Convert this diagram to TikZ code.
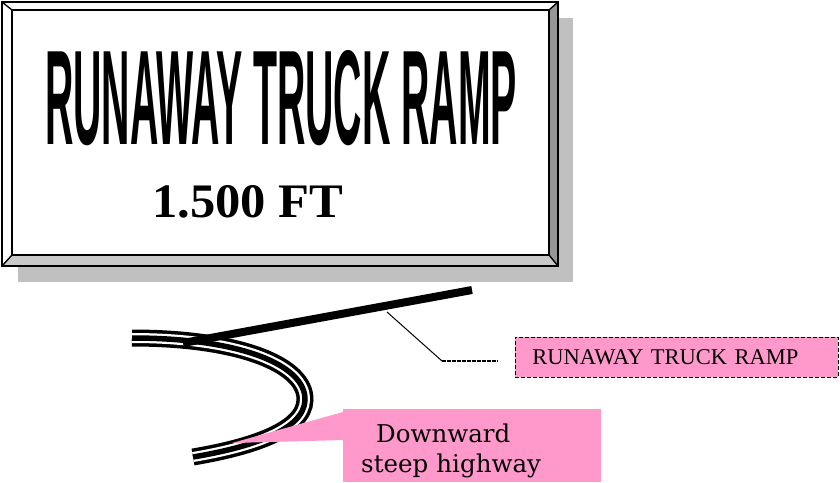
\documentclass[tikz,border=0pt]{standalone}
\usepackage{fontspec}
\setmainfont{Liberation Serif}
\newfontfamily\signfont{Liberation Sans}
\newfontfamily\hwyfont{DejaVu Serif}
\usepackage{graphicx}
\usetikzlibrary{positioning}
\definecolor{labelpink}{HTML}{FF99CC}
\definecolor{shadowgray}{HTML}{C0C0C0}
\definecolor{bevelgray}{HTML}{969696}

\begin{document}
\begin{tikzpicture}[x=1pt,y=-1pt,
    signline/.style={line width=1.4pt, line join=miter},
    pinklabel/.style={fill=labelpink, inner ysep=0pt}]
    \useasboundingbox (0,0) rectangle (840,482);

    % shadow behind the sign
    \fill[shadowgray] (18,18) rectangle (573,282);
    % sign face with bevelled frame
    \fill[white] (2,2) rectangle (558,266);
    \fill[bevelgray] (558,2) -- (558,266) -- (549,255) -- (549,10) -- cycle;
    \fill[shadowgray!85] (2,266) -- (558,266) -- (549,255) -- (12,255) -- cycle;
    \draw[signline] (2,2) rectangle (558,266);
    \draw[signline] (12,10) rectangle (549,255);
    \foreach \ox/\oy/\ix/\iy in {2/2/12/10, 558/2/549/10, 558/266/549/255, 2/266/12/255}
        \draw[signline] (\ox,\oy) -- (\ix,\iy);

    \node[inner sep=0pt, anchor=north west] (title) at (45,50)
        {\resizebox{472pt}{94pt}{\signfont\bfseries RUNAWAY TRUCK RAMP}};
    \node[inner sep=0pt, anchor=north west] (length) at (152,185)
        {\resizebox{191pt}{32pt}{\bfseries 1.500 FT}};

    % highway curve (three stripes)
    \coordinate (hwystart) at (132,338);
    \coordinate (hwyend) at (193,457);
    \foreach \w/\c in {17pt/black, 10pt/white, 5.5pt/black}
        \draw[line width=\w, \c] (hwystart) .. controls (240,338) and (306,365) .. (305,400)
            .. controls (304,430) and (252,447) .. (hwyend);

    % escape ramp
    \coordinate (rampstart) at (183,343);
    \coordinate (rampend) at (472,290);
    \draw[line width=8pt] (rampstart) -- (rampend);

    % leader to the ramp label
    \coordinate (leadstart) at (387,312);
    \coordinate (leadbend) at (442,361);
    \coordinate (leadend) at (498,361);
    \draw[line width=1pt] (leadstart) -- (leadbend);
    \draw[line width=1.1pt, dash pattern=on 4pt off 1pt] (leadbend) -- (leadend);

    \node[pinklabel, draw, dash pattern=on 4pt off 2pt, line width=0.7pt,
        anchor=north west, minimum width=323pt, minimum height=40pt,
        text width=289pt, inner xsep=17pt, align=left,
        font=\fontsize{22.5}{26}\selectfont] (ramplabel) at (515,337) {RUNAWAY TRUCK RAMP};

    % label for the highway
    \node[pinklabel, anchor=north west, minimum width=258pt, minimum height=73pt,
        text width=222pt, inner xsep=18pt, align=left,
        font=\hwyfont\fontsize{24.5}{30}\selectfont] (hwylabel) at (343,409)
        {\rule{0pt}{29pt}\hspace*{15pt}Downward\\steep highway};
    \coordinate (hwytip) at (232,443);
    \fill[labelpink] (343,412) -- (hwytip) -- (343,440) -- cycle;
\end{tikzpicture}
\end{document}
